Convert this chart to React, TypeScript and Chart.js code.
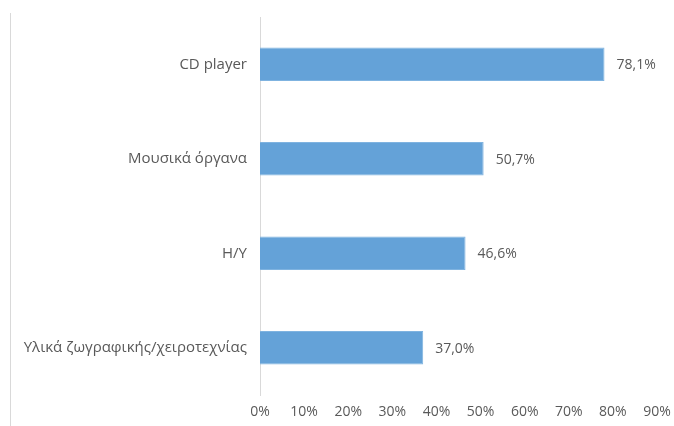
import React, { useEffect, useRef } from "react";
import { Chart, registerables } from "chart.js";

Chart.register(...registerables);

const categories = [
  "CD player",
  "Μουσικά όργανα",
  "Η/Υ",
  "Υλικά ζωγραφικής/χειροτεχνίας",
];
const percentages = [78.1, 50.7, 46.6, 37.0];
const axisMax = 90;
const axisStep = 10;

const TEXT = "#595959";
const FONT = "'Open Sans', 'Noto Sans', sans-serif";

const fmt = (v: number) => v.toFixed(1).replace(".", ",") + "%";

const valueLabels = {
  id: "valueLabels",
  afterDatasetsDraw(chart: any) {
    const ctx = chart.ctx;
    const meta = chart.getDatasetMeta(0);
    ctx.save();
    ctx.fillStyle = TEXT;
    ctx.font = `14px ${FONT}`;
    ctx.textAlign = "left";
    ctx.textBaseline = "middle";
    meta.data.forEach((bar: any, i: number) => {
      ctx.fillText(fmt(percentages[i]), bar.x + 12, bar.y + 1);
    });
    ctx.restore();
  },
};

// Keep the plot area governed by layout.padding only.
const noScalePadding = (s: any) => {
  s.paddingLeft = 0;
  s.paddingRight = 0;
  s.paddingTop = 0;
  s.paddingBottom = 0;
};

export default function App() {
  const ref = useRef<HTMLCanvasElement | null>(null);

  useEffect(() => {
    if (!ref.current) return;
    const chart = new Chart(ref.current, {
      type: "bar",
      data: {
        labels: categories,
        datasets: [
          {
            data: percentages,
            backgroundColor: "#64A2D8",
            borderColor: "#7FB3E0",
            borderWidth: 1,
            barPercentage: 0.44,
            categoryPercentage: 0.8,
          },
        ],
      },
      options: {
        indexAxis: "y",
        animation: false,
        responsive: false,
        layout: { padding: { top: 17, right: 17, left: 0, bottom: 0 } },
        plugins: {
          legend: { display: false },
          tooltip: { enabled: false },
        },
        scales: {
          x: {
            min: 0,
            max: axisMax,
            grid: { display: false, drawTicks: false },
            border: { display: false },
            ticks: {
              stepSize: axisStep,
              padding: 9,
              color: TEXT,
              font: { family: FONT, size: 14 },
              callback: (v: any) => v + "%",
            },
            afterFit: (s: any) => {
              s.height = 31;
              noScalePadding(s);
            },
          },
          y: {
            grid: { display: false, drawTicks: false },
            border: { display: true, color: "#D9D9D9", width: 1 },
            ticks: {
              padding: 13,
              color: TEXT,
              font: { family: FONT, size: 15 },
            },
            afterFit: (s: any) => {
              s.width = 260;
              noScalePadding(s);
            },
          },
        },
      },
      plugins: [valueLabels],
    });
    return () => chart.destroy();
  }, []);

  return (
    <div
      style={{
        position: "fixed",
        left: 0,
        top: 0,
        width: 674,
        height: 426,
        background: "#fff",
      }}
    >
      <div
        style={{
          position: "absolute",
          left: 10,
          top: 13,
          width: 0,
          height: 413,
          borderLeft: "1px solid #D9D9D9",
        }}
      />
      <canvas
        ref={ref}
        width={674}
        height={426}
        style={{ position: "absolute", left: 0, top: 0 }}
      />
    </div>
  );
}
